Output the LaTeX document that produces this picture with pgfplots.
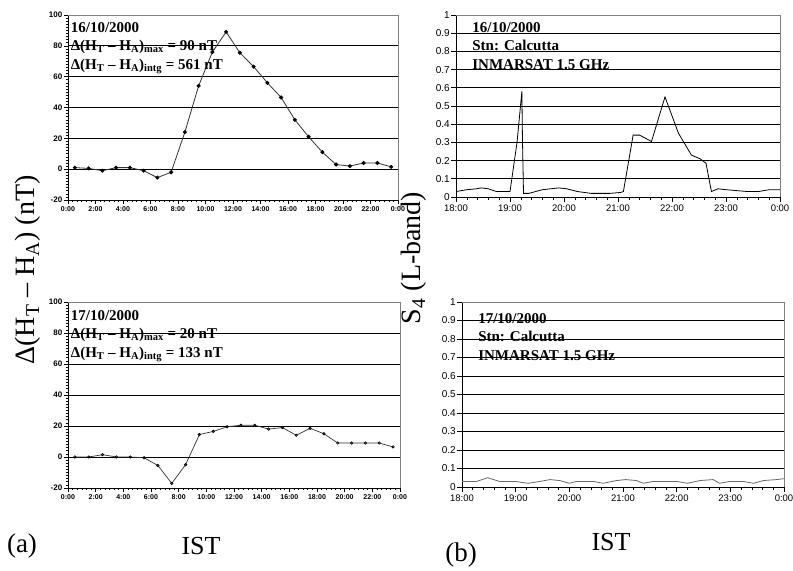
\documentclass[border=0pt]{standalone}
\usepackage{fontspec}
\setmainfont{Liberation Serif}
\setsansfont{Liberation Sans}
\usepackage{pgfplots}
\pgfplotsset{compat=1.18}
\newcommand{\fs}[2]{\fontsize{#1bp}{#2bp}\selectfont}
\tikzset{ann/.style={anchor=north west, inner sep=0pt, align=left, font=\bfseries\fs{15}{18.5}}}
\begin{document}
\begin{tikzpicture}
\useasboundingbox (0bp,0bp) rectangle (793bp,571bp);
\pgfplotsset{
 common/.style={
   scale only axis, anchor=south west,
   axis x line*=bottom, axis y line*=left,
   tick align=outside,
   tick style={black, line width=0.6bp},
   axis line style={black, line width=0.9bp},
   ymajorgrids, major grid style={black, line width=0.9bp},
   after end axis/.code={\draw[gray, line width=0.9bp] (rel axis cs:0,1) -- (rel axis cs:1,1) -- (rel axis cs:1,0);},
 },
 leftpanel/.style={common,
   xmin=0, xmax=24, ymin=-20, ymax=100,
   xtick={0,2,...,24},
   xticklabels={0:00,2:00,4:00,6:00,8:00,10:00,12:00,14:00,16:00,18:00,20:00,22:00,0:00},
   ytick={-20,0,20,40,60,80,100},
   yticklabels={-20,0,20,40,60,80,100},
   minor x tick num=5, minor y tick num=9,
   major tick length=4bp, minor tick length=2bp,
   yticklabel style={font=\sffamily\bfseries\fs{8}{8}, inner sep=1.5bp},
   xticklabel style={font=\sffamily\bfseries\fs{7}{7}, inner sep=2bp},
 },
 rightpanel/.style={common,
   xmin=18, xmax=24, ymin=0, ymax=1,
   xtick={18,19,...,24},
   xticklabels={18:00,19:00,20:00,21:00,22:00,23:00,0:00},
   ytick={0,0.1,0.2,0.3,0.4,0.5,0.6,0.7,0.8,0.9,1},
   yticklabels={0,0.1,0.2,0.3,0.4,0.5,0.6,0.7,0.8,0.9,1},
   minor x tick num=4,
   major tick length=5bp, minor tick length=3bp,
   yticklabel style={font=\sffamily\fs{10}{10}, inner sep=1bp},
   xticklabel style={font=\sffamily\fs{9.5}{10}, inner sep=3bp},
 },
}

% top-left
\begin{axis}[leftpanel, at={(68bp,371bp)}, width=330bp, height=185bp]
\addplot[line width=0.8bp, color=black!80, mark=*, mark size=1.6bp, mark options={black}] coordinates {
(0.5,1)(1.5,0.5)(2.5,-1)(3.5,1)(4.5,1)(5.5,-1)(6.5,-5.5)(7.5,-2)(8.5,24)(9.5,54)(10.5,76)(11.5,89)(12.5,75.5)(13.5,66.5)(14.5,56)(15.5,46.5)(16.5,32)(17.5,21)(18.5,11)(19.5,3)(20.5,2)(21.5,4)(22.5,4)(23.5,1.5)};
\node[ann] at (axis description cs:0.008,0.962) {16/10/2000\\Δ(H\textsubscript{T} – H\textsubscript{A})\textsubscript{max} = 90 nT\\Δ(H\textsubscript{T} – H\textsubscript{A})\textsubscript{intg} = 561 nT};
\end{axis}

% bottom-left
\begin{axis}[leftpanel, at={(68bp,83bp)}, width=332bp, height=186bp]
\addplot[line width=0.7bp, color=black!80, mark=o, mark size=1.2bp, mark options={black}] coordinates {
(0.5,0)(1.5,0)(2.5,1.5)(3.5,0)(4.5,0)(5.5,-0.5)(6.5,-5.5)(7.5,-17)(8.5,-5)(9.5,14.5)(10.5,16.5)(11.5,19.5)(12.5,20.5)(13.5,20.5)(14.5,18)(15.5,19)(16.5,14)(17.5,18.5)(18.5,15)(19.5,9)(20.5,9)(21.5,9)(22.5,9)(23.5,6.5)};
\node[ann] at (axis description cs:0.008,0.957) {17/10/2000\\Δ(H\textsubscript{T} – H\textsubscript{A})\textsubscript{max} = 20 nT\\Δ(H\textsubscript{T} – H\textsubscript{A})\textsubscript{intg} = 133 nT};
\end{axis}

% top-right
\begin{axis}[rightpanel, at={(456bp,374bp)}, width=324bp, height=182bp]
\addplot[line width=0.8bp, color=black] coordinates {
(18.0,0.03)(18.2,0.04)(18.38,0.045)(18.47,0.05)(18.6,0.045)(18.75,0.03)(19.0,0.03)(19.13,0.3)(19.22,0.58)(19.23,0.33)(19.25,0.02)(19.35,0.02)(19.6,0.04)(19.9,0.05)(20.05,0.045)(20.25,0.03)(20.5,0.02)(20.85,0.02)(21.05,0.025)(21.1,0.03)(21.28,0.34)(21.4,0.34)(21.62,0.305)(21.87,0.55)(22.12,0.35)(22.36,0.23)(22.52,0.21)(22.63,0.185)(22.73,0.03)(22.85,0.045)(23.0,0.04)(23.2,0.035)(23.4,0.03)(23.6,0.03)(23.8,0.04)(24.0,0.04)};
\node[ann] at (axis description cs:0.05,0.962) {16/10/2000\\Stn: Calcutta\\INMARSAT 1.5 GHz};
\end{axis}

% bottom-right
\begin{axis}[rightpanel, at={(462bp,84bp)}, width=322bp, height=185bp]
\addplot[line width=0.8bp, color=black!60] coordinates {
(18.0,0.03)(18.27,0.03)(18.48,0.05)(18.7,0.03)(19.0,0.03)(19.23,0.02)(19.45,0.03)(19.64,0.04)(19.82,0.035)(20.0,0.02)(20.13,0.03)(20.45,0.03)(20.63,0.02)(20.88,0.035)(21.05,0.04)(21.25,0.035)(21.38,0.02)(21.56,0.03)(22.0,0.03)(22.2,0.02)(22.44,0.035)(22.68,0.04)(22.8,0.02)(22.99,0.03)(23.24,0.03)(23.43,0.02)(23.62,0.035)(23.86,0.04)(24.0,0.045)};
\node[ann] at (axis description cs:0.05,0.94) {17/10/2000\\Stn: Calcutta\\INMARSAT 1.5 GHz};
\end{axis}

% outer labels
\node[rotate=90, font=\fs{28}{30}] at (28bp,301bp) {Δ(H\textsubscript{T} – H\textsubscript{A}) (nT)};
\node[rotate=90, font=\fs{28}{30}] at (414bp,313bp) {S\textsubscript{4} (L-band)};
\node[font=\fs{27}{29}] at (22bp,25bp) {(a)};
\node[font=\fs{26}{28}] at (201bp,25bp) {IST};
\node[font=\fs{27}{29}] at (461bp,16bp) {(b)};
\node[font=\fs{26}{28}] at (611bp,29bp) {IST};
\end{tikzpicture}
\end{document}
